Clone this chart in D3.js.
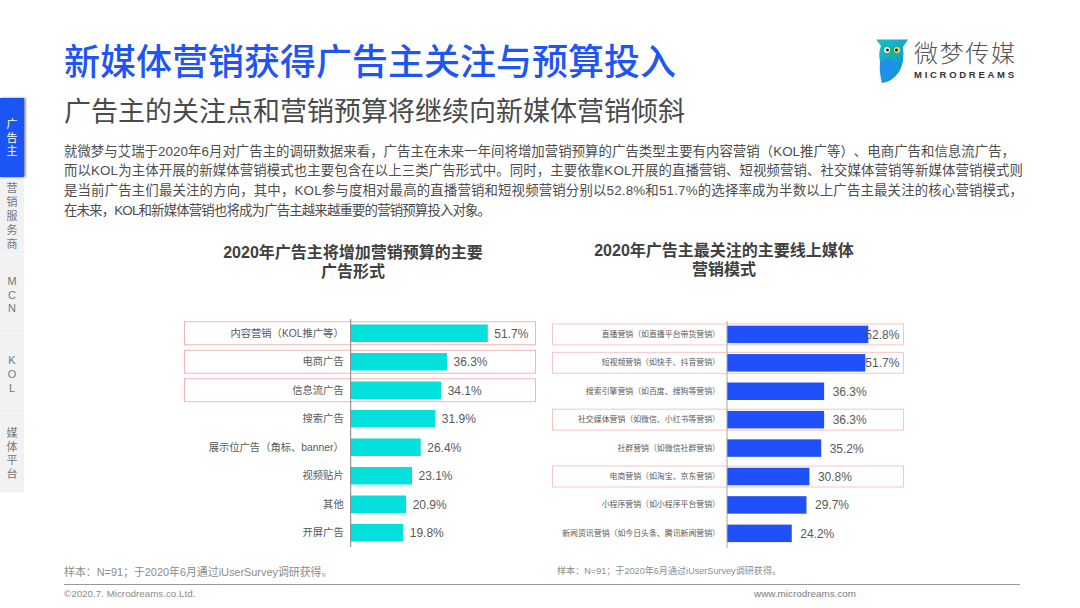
<!DOCTYPE html>
<html><head><meta charset="utf-8">
<script src="https://cdn.jsdelivr.net/npm/d3@7/dist/d3.min.js"></script>
<style>
html,body{margin:0;padding:0;background:#fff;overflow:hidden}
text{font-family:"Liberation Sans","Noto Sans CJK SC",sans-serif;text-spacing-trim:space-all}
</style></head><body><svg id="c" width="1080" height="608"></svg>
<script>
const title="新媒体营销获得广告主关注与预算投入";
const subtitle="广告主的关注点和营销预算将继续向新媒体营销倾斜";
const bodyLines=[
"就微梦与艾瑞于2020年6月对广告主的调研数据来看，广告主在未来一年间将增加营销预算的广告类型主要有内容营销（KOL推广等）、电商广告和信息流广告，",
"而以KOL为主体开展的新媒体营销模式也主要包含在以上三类广告形式中。同时，主要依靠KOL开展的直播营销、短视频营销、社交媒体营销等新媒体营销模式则",
"是当前广告主们最关注的方向，其中，KOL参与度相对最高的直播营销和短视频营销分别以52.8%和51.7%的选择率成为半数以上广告主最关注的核心营销模式，",
"在未来，KOL和新媒体营销也将成为广告主越来越重要的营销预算投入对象。"];
const bodyWidths=[951,959,959,427];
const navItems=["广告主","营销服务商","MCN","KOL","媒体平台"];
const leftTitle=["2020年广告主将增加营销预算的主要","广告形式"];
const rightTitle=["2020年广告主最关注的主要线上媒体","营销模式"];
const leftCats=["内容营销（KOL推广等）","电商广告","信息流广告","搜索广告","展示位广告（角标、banner）","视频贴片","其他","开屏广告"];
const leftVals=[51.7,36.3,34.1,31.9,26.4,23.1,20.9,19.8];
const leftMarked=[0,1,2];
const rightCats=["直播营销（如直播平台带货营销）","短视频营销（如快手、抖音营销）","搜索引擎营销（如百度、搜狗等营销）","社交媒体营销（如微信、小红书等营销）","社群营销（如微信社群营销）","电商营销（如淘宝、京东营销）","小程序营销（如小程序平台营销）","新闻资讯营销（如今日头条、腾讯新闻营销）"];
const rightVals=[52.8,51.7,36.3,36.3,35.2,30.8,29.7,24.2];
const rightMarked=[0,1,3,5];
const note="样本：N=91；于2020年6月通过iUserSurvey调研获得。";

const svg=d3.select("#c");
const defs=svg.append("defs");
const g1=defs.append("linearGradient").attr("id","owl").attr("x1",0).attr("y1",0).attr("x2",1).attr("y2",1);
g1.append("stop").attr("offset","0").attr("stop-color","#12c8c0");
g1.append("stop").attr("offset","1").attr("stop-color","#1a7fe0");
const fl=defs.append("filter").attr("id","sh").attr("x","-30%").attr("width","160%");
fl.append("feDropShadow").attr("dx",1.5).attr("dy",0).attr("stdDeviation",1.2).attr("flood-color","#000").attr("flood-opacity",.5);

const T=(x,y,s,size,fill,anchor,weight)=>svg.append("text").attr("x",x).attr("y",y).text(s)
  .attr("font-size",size).attr("fill",fill).attr("text-anchor",anchor||"start").attr("font-weight",weight||400);

T(64,75,title,36,"#1f54f5","start",500);
T(64,121,subtitle,27,"#4a4a4a");
bodyLines.forEach((l,i)=>T(64,155.5+i*19.7,l,13.4,"#4d4d4d").attr("textLength",bodyWidths[i]).attr("lengthAdjust","spacing"));
leftTitle.forEach((l,i)=>T(353,258+i*19,l,16,"#404040","middle",700));
rightTitle.forEach((l,i)=>T(724,256+i*19,l,16,"#404040","middle",700));

// nav: inactive tabs first, then the active one on top
const navTop=[98,177,255,334,414], navBottom=[177,255,334,414,493];
d3.range(navItems.length).reverse().forEach(i=>{
  const n=navItems[i], on=i===0;
  svg.append("rect").attr("x",0).attr("y",navTop[i]).attr("width",24).attr("height",navBottom[i]-navTop[i]-(on?0:.5))
    .attr("fill",on?"#1f54f5":"#f2f2f2").attr("filter",on?"url(#sh)":null);
  const chars=[...n], cy=(navTop[i]+navBottom[i])/2, st=13.8;
  chars.forEach((c,k)=>T(12,cy+(k-(chars.length-1)/2)*st+4,c,11,on?"#fff":"#777","middle"));
});

function chart(cats,vals,marked,o){
  const x=d3.scaleLinear().domain([0,60]).range([o.x0,o.x0+60*o.k]);
  const y=d3.scaleBand().domain(cats).range([o.top,o.top+o.step*8]).paddingInner(1-o.bh/o.step).paddingOuter((1-o.bh/o.step)/2);
  const g=svg.append("g");
  g.selectAll(".hl").data(marked).join("rect")
    .attr("x",o.bx0).attr("width",o.bx1-o.bx0)
    .attr("y",i=>y(cats[i])+y.bandwidth()/2-o.bh2)
    .attr("height",o.bh2*2)
    .attr("fill","none").attr("stroke",o.hl).attr("stroke-width",1);
  g.selectAll(".bar").data(vals).join("rect")
    .attr("x",x(0)).attr("y",(d,i)=>y(cats[i])).attr("width",d=>x(d)-x(0)).attr("height",y.bandwidth())
    .attr("fill",o.color);
  const ax=g.append("g").attr("transform",`translate(${o.x0},0)`)
    .call(d3.axisLeft(y).tickSize(0).tickPadding(o.pad));
  ax.select(".domain").attr("stroke",o.axis).attr("stroke-width",1).attr("d",`M0,${o.axTop}V${o.axBot}`);
  ax.selectAll("text").attr("font-size",o.fs).attr("fill",o.labelC).attr("font-family",'"Liberation Sans","Noto Sans CJK SC",sans-serif');
  g.selectAll(".val").data(vals).join("text")
    .attr("x",(d,i)=>x(d)+(o.vpads?o.vpads[i]:o.vpad)).attr("y",(d,i)=>y(cats[i])+y.bandwidth()/2+4.5)
    .text(d=>d.toFixed(1)+"%").attr("font-size",12).attr("fill","#595959");
}
chart(leftCats,leftVals,leftMarked,{x0:350.7,k:2.652,top:319,step:28.5,bh:17.5,bh2:11.5,bx0:184.5,bx1:535.5,
  color:"#04e0dc",hl:"#f7b3b3",axis:"#808080",axTop:319,axBot:547,pad:7,fs:10.3,labelC:"#595959",vpad:6.5});
chart(rightCats,rightVals,rightMarked,{x0:727,k:2.676,top:320.2,step:28.42,bh:17.5,bh2:10.5,bx0:552.5,bx1:903.5,
  color:"#2050fa",hl:"#f8c4c4",axis:"#a6a6a6",axTop:321,axBot:548,pad:7,fs:7.9,labelC:"#595959",
  vpads:[-3,0,8.5,8.5,8.5,8.5,8.5,8.5]});

T(64,576,note,10.9,"#8c8c8c");
T(557,574,note,9.1,"#8c8c8c");
svg.append("line").attr("x1",64).attr("x2",1020).attr("y1",584.5).attr("y2",584.5).attr("stroke","#999").attr("stroke-width",1);
T(64,597,"©2020.7. Microdreams.co.Ltd.",9.8,"#8c8c8c");
T(754,597,"www.microdreams.com",9.9,"#7a7a7a");

// logo
const L=svg.append("g");
L.append("path").attr("d","M876,39.5 L908,39.5 L903,47 Q905,62 899,72 Q892,82 882,83 Q881,70 880,62 Q878,52 881,46 Z").attr("fill","url(#owl)");
L.append("path").attr("d","M880,62 Q890,56 894,62 Q895,76 882,83 Q879,72 880,62Z").attr("fill","#1f8fe8");
L.append("path").attr("d","M882,45 Q892,48 902,45 L900,55 Q892,60 884,55Z").attr("fill","#1cae9e");
L.append("circle").attr("cx",887).attr("cy",50).attr("r",3).attr("fill","#fff");
L.append("circle").attr("cx",897).attr("cy",50).attr("r",3).attr("fill","#f5d76e");
L.append("circle").attr("cx",887.5).attr("cy",50).attr("r",1.5).attr("fill","#222");
L.append("circle").attr("cx",896.5).attr("cy",50).attr("r",1.5).attr("fill","#222");
T(914,62,"微梦传媒",24,"#555",null,300).attr("textLength",101).attr("lengthAdjust","spacing");
T(914,78,"MICRODREAMS",9.5,"#333","start",700).attr("textLength",100).attr("lengthAdjust","spacing");
</script></body></html>
